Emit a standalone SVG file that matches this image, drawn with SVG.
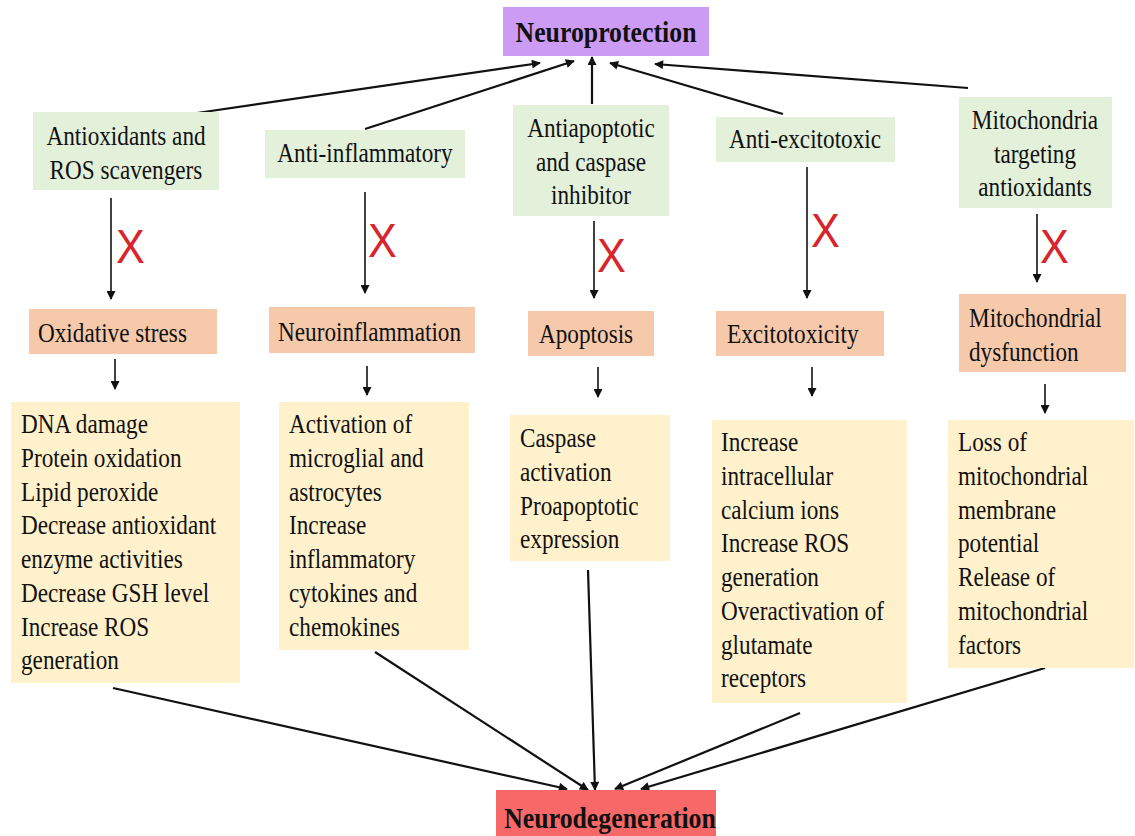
<svg xmlns="http://www.w3.org/2000/svg" width="1135" height="836" viewBox="0 0 1135 836">
<defs>
<marker id="ah" viewBox="0 0 10 10" refX="9" refY="5" markerWidth="10" markerHeight="9" markerUnits="userSpaceOnUse" orient="auto">
<path d="M0,0 L10,5 L0,10 z" fill="#111"/>
</marker>
<style>
.t{font-family:"Liberation Serif","Times New Roman",serif;font-size:27px;fill:#111}
.b{font-family:"Liberation Serif","Times New Roman",serif;font-size:30px;font-weight:bold;fill:#111}
.c{text-anchor:middle}
.x{font-family:"Liberation Sans",Arial,sans-serif;font-size:48px;fill:#d8252b}
.green{fill:#e3f0da}
.orange{fill:#f7c9ab}
.yellow{fill:#fff1cc}
.ln{stroke:#111;stroke-width:2.2;fill:none;marker-end:url(#ah)}
.lv{stroke:#111;stroke-width:1.6;fill:none;marker-end:url(#ah)}
</style>
</defs>
<rect width="1135" height="836" fill="#fff"/>

<g id="connectors">
<line class="ln" x1="197" y1="113" x2="540" y2="63"/>
<line class="ln" x1="365" y1="129" x2="574" y2="61"/>
<line class="ln" x1="592" y1="104" x2="592" y2="57"/>
<line class="ln" x1="783" y1="114" x2="610" y2="63"/>
<line class="ln" x1="968" y1="88" x2="655" y2="64"/>

<line class="lv" x1="111" y1="198" x2="111" y2="299"/>
<line class="lv" x1="365" y1="192" x2="365" y2="293"/>
<line class="lv" x1="594" y1="221" x2="594" y2="298"/>
<line class="lv" x1="807" y1="167" x2="807" y2="298"/>
<line class="lv" x1="1037" y1="214" x2="1037" y2="282"/>

<line class="lv" x1="115" y1="359" x2="115" y2="389"/>
<line class="lv" x1="367" y1="366" x2="367" y2="395"/>
<line class="lv" x1="598" y1="367" x2="598" y2="397"/>
<line class="lv" x1="812" y1="367" x2="812" y2="396"/>
<line class="lv" x1="1045" y1="384" x2="1045" y2="413"/>

<line class="ln" x1="113" y1="688" x2="567" y2="789"/>
<line class="ln" x1="375" y1="652" x2="588" y2="790"/>
<line class="ln" x1="588" y1="570" x2="595" y2="790"/>
<line class="ln" x1="800" y1="713" x2="615" y2="789"/>
<line class="ln" x1="1045" y1="668" x2="641" y2="789"/>

<text class="x" transform="translate(116,263) scale(0.9,1)">X</text>
<text class="x" transform="translate(368,257) scale(0.9,1)">X</text>
<text class="x" transform="translate(597,272) scale(0.9,1)">X</text>
<text class="x" transform="translate(811,247) scale(0.9,1)">X</text>
<text class="x" transform="translate(1040,263) scale(0.9,1)">X</text>
</g>

<g id="neuroprotection">
<rect x="503" y="7" width="206" height="49" fill="#cc9cf5"/>
<text class="b c" transform="translate(606,42) scale(0.86,1)">Neuroprotection</text>
</g>

<g id="antioxidants">
<rect class="green" x="33" y="112" width="186" height="78"/>
<text class="t c" transform="translate(126,145) scale(0.86,1)"><tspan x="0" y="0">Antioxidants and</tspan><tspan x="0" y="34">ROS scavengers</tspan></text>
</g>
<g id="antiinflammatory">
<rect class="green" x="265" y="130" width="200" height="48"/>
<text class="t c" transform="translate(365,162) scale(0.86,1)">Anti-inflammatory</text>
</g>
<g id="antiapoptotic">
<rect class="green" x="513" y="105" width="156" height="111"/>
<text class="t c" transform="translate(591,137) scale(0.86,1)"><tspan x="0" y="0">Antiapoptotic</tspan><tspan x="0" y="34">and caspase</tspan><tspan x="0" y="67">inhibitor</tspan></text>
</g>
<g id="antiexcitotoxic">
<rect class="green" x="716" y="117" width="179" height="45"/>
<text class="t c" transform="translate(805,148) scale(0.86,1)">Anti-excitotoxic</text>
</g>
<g id="mitotargeting">
<rect class="green" x="959" y="97" width="153" height="111"/>
<text class="t c" transform="translate(1035,129) scale(0.86,1)"><tspan x="0" y="0">Mitochondria</tspan><tspan x="0" y="34">targeting</tspan><tspan x="0" y="67">antioxidants</tspan></text>
</g>

<g id="oxidative">
<rect class="orange" x="29" y="309" width="188" height="45"/>
<text class="t" transform="translate(38,342) scale(0.86,1)">Oxidative stress</text>
</g>
<g id="neuroinflammation">
<rect class="orange" x="269" y="307" width="206" height="46"/>
<text class="t" transform="translate(278,341) scale(0.86,1)">Neuroinflammation</text>
</g>
<g id="apoptosis">
<rect class="orange" x="528" y="311" width="126" height="45"/>
<text class="t" transform="translate(539,343) scale(0.86,1)">Apoptosis</text>
</g>
<g id="excitotoxicity">
<rect class="orange" x="716" y="311" width="168" height="45"/>
<text class="t" transform="translate(727,343) scale(0.86,1)">Excitotoxicity</text>
</g>
<g id="mitodysfunction">
<rect class="orange" x="959" y="294" width="167" height="78"/>
<text class="t" transform="translate(969,327) scale(0.86,1)"><tspan x="0" y="0">Mitochondrial</tspan><tspan x="0" y="34">dysfunction</tspan></text>
</g>

<g id="oxidative-effects">
<rect class="yellow" x="11" y="402" width="229" height="281"/>
<text class="t" transform="translate(21,433) scale(0.86,1)"><tspan x="0" y="0">DNA damage</tspan><tspan x="0" y="34">Protein oxidation</tspan><tspan x="0" y="68">Lipid peroxide</tspan><tspan x="0" y="101">Decrease antioxidant</tspan><tspan x="0" y="135">enzyme activities</tspan><tspan x="0" y="169">Decrease GSH level</tspan><tspan x="0" y="203">Increase ROS</tspan><tspan x="0" y="236">generation</tspan></text>
</g>
<g id="inflammation-effects">
<rect class="yellow" x="279" y="402" width="190" height="248"/>
<text class="t" transform="translate(289,433) scale(0.86,1)"><tspan x="0" y="0">Activation of</tspan><tspan x="0" y="34">microglial and</tspan><tspan x="0" y="68">astrocytes</tspan><tspan x="0" y="101">Increase</tspan><tspan x="0" y="135">inflammatory</tspan><tspan x="0" y="169">cytokines and</tspan><tspan x="0" y="203">chemokines</tspan></text>
</g>
<g id="apoptosis-effects">
<rect class="yellow" x="510" y="415" width="160" height="146"/>
<text class="t" transform="translate(520,447) scale(0.86,1)"><tspan x="0" y="0">Caspase</tspan><tspan x="0" y="34">activation</tspan><tspan x="0" y="68">Proapoptotic</tspan><tspan x="0" y="101">expression</tspan></text>
</g>
<g id="excitotoxicity-effects">
<rect class="yellow" x="712" y="420" width="195" height="283"/>
<text class="t" transform="translate(721,451) scale(0.86,1)"><tspan x="0" y="0">Increase</tspan><tspan x="0" y="34">intracellular</tspan><tspan x="0" y="68">calcium ions</tspan><tspan x="0" y="101">Increase ROS</tspan><tspan x="0" y="135">generation</tspan><tspan x="0" y="169">Overactivation of</tspan><tspan x="0" y="203">glutamate</tspan><tspan x="0" y="236">receptors</tspan></text>
</g>
<g id="mito-effects">
<rect class="yellow" x="948" y="420" width="186" height="248"/>
<text class="t" transform="translate(958,451) scale(0.86,1)"><tspan x="0" y="0">Loss of</tspan><tspan x="0" y="34">mitochondrial</tspan><tspan x="0" y="68">membrane</tspan><tspan x="0" y="101">potential</tspan><tspan x="0" y="135">Release of</tspan><tspan x="0" y="169">mitochondrial</tspan><tspan x="0" y="203">factors</tspan></text>
</g>

<g id="neurodegeneration">
<rect x="496" y="790" width="220" height="50" fill="#f86868"/>
<text class="b c" transform="translate(610,828) scale(0.86,1)">Neurodegeneration</text>
</g>
</svg>
